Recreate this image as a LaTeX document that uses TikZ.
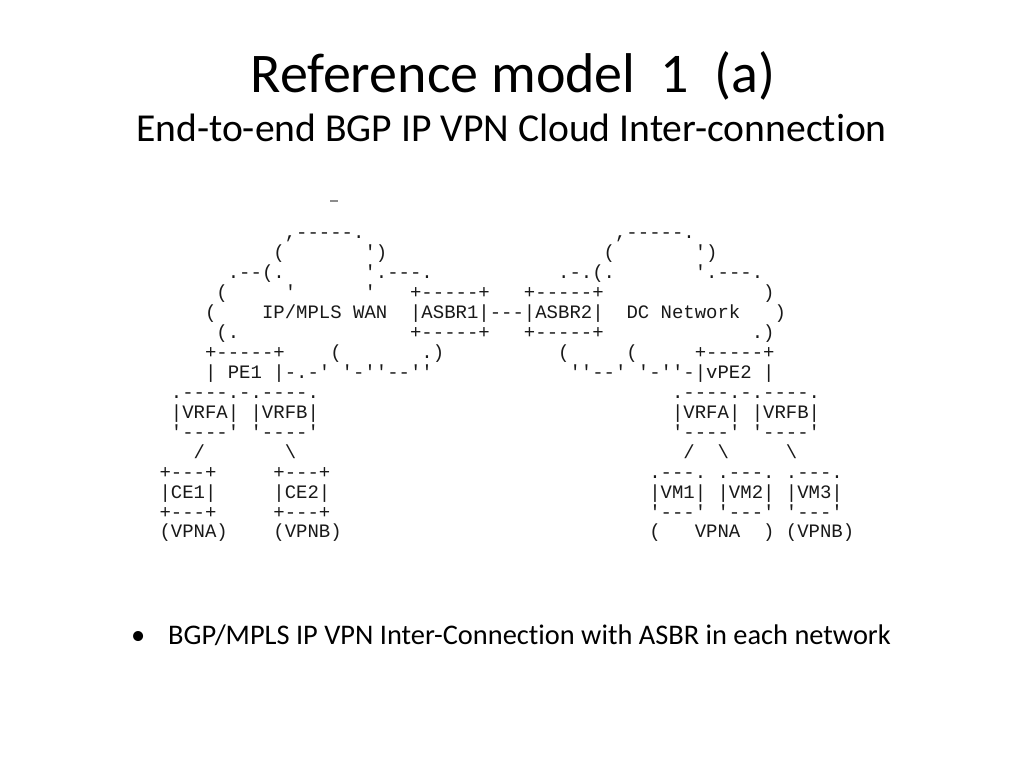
\documentclass[tikz,border=0pt]{standalone}
\usepackage{fontspec}
\setmainfont{Carlito}[Ligatures={TeX,NoCommon}]
\newfontfamily\asciifont{Liberation Mono}[Ligatures=TeXOff]
\usetikzlibrary{positioning}
\tikzset{ascii/.style={anchor=base west, inner sep=0pt, text=black!90,
    font={\asciifont\fontsize{18.98}{20}\selectfont\frenchspacing}}}
\tikzset{titel/.style={anchor=base, inner sep=0pt, font=\fontsize{56}{60}\selectfont}}
\tikzset{untertitel/.style={anchor=base, inner sep=0pt, font=\fontsize{39.6}{44}\selectfont}}
\tikzset{punkt/.style={anchor=base west, inner sep=0pt, font=\fontsize{28.4}{32}\selectfont}}

\begin{document}
\begin{tikzpicture}[x=1pt, y=-1pt]
    \fill[white] (0,0) rectangle (1024,768);
    \useasboundingbox (0,0) rectangle (1024,768);

    \node[titel] (title) at (513,92) {Reference model\ \ 1\ \ (a)};
    \node[untertitel] (subtitle) at (511.5,141) {End-to-end BGP IP VPN Cloud Inter-connection};

    \draw[black!45, line width=1.3pt] (330,201) -- (338,201);

    \begin{scope}[shift={(159.3,238.7)}, x=11.39pt, y=-19.95pt]
        % clouds
        \node[ascii] (wantop) at (11,0) {,-----.};
        \node[ascii] (dctop)  at (40,0) {,-----.};
        \node[ascii] (wan1) at (10,1) {(\ \ \ \ \ \ \ ')};
        \node[ascii] (dc1)  at (39,1) {(\ \ \ \ \ \ \ ')};
        \node[ascii] (wan2) at (6,2)  {.--(.\ \ \ \ \ \ \ '.---.};
        \node[ascii] (dc2)  at (35,2) {.-.(.\ \ \ \ \ \ \ '.---.};
        \node[ascii] (wan3) at (5,3)  {(\ \ \ \ \ '\ \ \ \ \ \ '};
        \node[ascii] (dc3)  at (53,3) {)};
        \node[ascii] (wan4) at (4,4)  {(};
        \node[ascii] (wan)  at (9,4)  {IP/MPLS WAN};
        \node[ascii] (dc)   at (41,4) {DC Network};
        \node[ascii] (dc4)  at (54,4) {)};
        \node[ascii] (wan5) at (5,5)  {(.};
        \node[ascii] (dc5)  at (52,5) {.)};
        \node[ascii] (wan6) at (15,6) {(\ \ \ \ \ \ \ .)};
        \node[ascii] (dc6)  at (35,6) {(\ \ \ \ \ (};

        % border routers
        \node[ascii] (asbr1top) at (22,3) {+-----+};
        \node[ascii] (asbr2top) at (32,3) {+-----+};
        \node[ascii] (asbr)     at (22,4) {|ASBR1|---|ASBR2|};
        \node[ascii] (asbr1bot) at (22,5) {+-----+};
        \node[ascii] (asbr2bot) at (32,5) {+-----+};

        % PE side
        \node[ascii] (pe1top) at (4,6)  {+-----+};
        \node[ascii] (pe1)    at (4,7)  {| PE1 |-.-' '-''--''};
        \node[ascii] (vrf1top) at (1,8) {.----.-.----.};
        \node[ascii] (vrf1)    at (1,9) {|VRFA| |VRFB|};
        \node[ascii] (vrf1bot) at (1,10) {'----' '----'};
        \node[ascii] (ln1) at (3,11)  {/};
        \node[ascii] (ln2) at (11,11) {\textbackslash};
        \node[ascii] (ce1top) at (0,12)  {+---+};
        \node[ascii] (ce2top) at (10,12) {+---+};
        \node[ascii] (ce1)    at (0,13)  {|CE1|};
        \node[ascii] (ce2)    at (10,13) {|CE2|};
        \node[ascii] (ce1bot) at (0,14)  {+---+};
        \node[ascii] (ce2bot) at (10,14) {+---+};
        \node[ascii] (vpna1)  at (0,15)  {(VPNA)};
        \node[ascii] (vpnb1)  at (10,15) {(VPNB)};

        % DC side
        \node[ascii] (vpe2top) at (47,6) {+-----+};
        \node[ascii] (vpe2)    at (36,7) {''--' '-''-|vPE2 |};
        \node[ascii] (vrf2top) at (45,8) {.----.-.----.};
        \node[ascii] (vrf2)    at (45,9) {|VRFA| |VRFB|};
        \node[ascii] (vrf2bot) at (45,10) {'----' '----'};
        \node[ascii] (ln3) at (46,11) {/};
        \node[ascii] (ln4) at (49,11) {\textbackslash};
        \node[ascii] (ln5) at (55,11) {\textbackslash};
        \node[ascii] (vmtop) at (43,12) {.---. .---. .---.};
        \node[ascii] (vm)    at (43,13) {|VM1| |VM2| |VM3|};
        \node[ascii] (vmbot) at (43,14) {'---' '---' '---'};
        \node[ascii] (vpn2)  at (43,15) {(\ \ \ VPNA\ \ ) (VPNB)};
    \end{scope}

    \node[punkt] (dot)   at (131,644) {\textbullet};
    \node[punkt] (point) at (168,644) {BGP/MPLS IP VPN Inter-Connection with ASBR in each network};
\end{tikzpicture}
\end{document}
